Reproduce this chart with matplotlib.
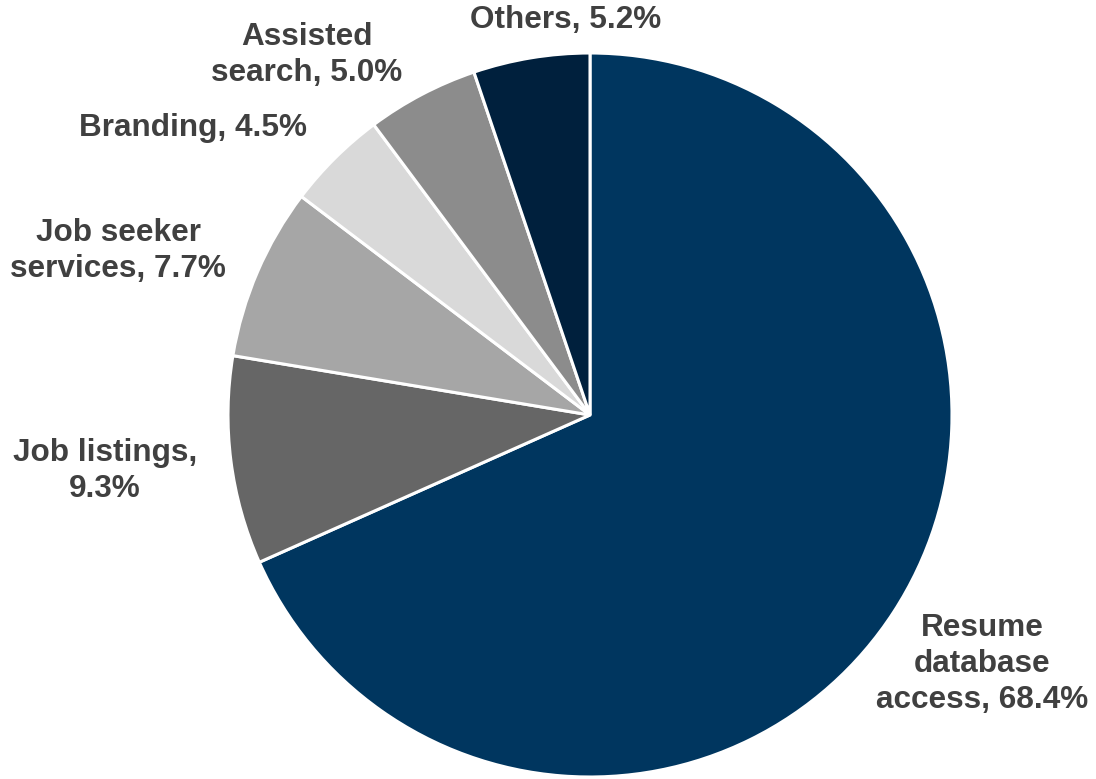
import matplotlib.pyplot as plt

segments = ["Resume\ndatabase\naccess", "Job listings,\n", "Job seeker\nservices", "Branding",
            "Assisted\nsearch", "Others"]
shares = [68.4, 9.3, 7.7, 4.5, 5.0, 5.2]
colors = ["#00365f", "#666666", "#a6a6a6", "#d9d9d9", "#8c8c8c", "#00203d"]

# label centres in pixel coords (x, y from top)
label_pos = [(982, 664), (105, 471), (118, 251), (193, 128), (307, 55), (566, 20)]

W, H = 1096, 779
fig = plt.figure(figsize=(W / 100, H / 100), dpi=100)
ax = fig.add_axes([0, 0, 1, 1])

ax.pie(
    shares,
    colors=colors,
    startangle=90,
    counterclock=False,
    center=(590, H - 415),
    radius=362,
    wedgeprops=dict(edgecolor="white", linewidth=2.2),
    frame=True,
)
ax.set_xlim(0, W)
ax.set_ylim(0, H)
ax.set_aspect("equal")
ax.axis("off")

for name, val, (x, y) in zip(segments, shares, label_pos):
    if name.endswith("\n"):
        txt = f"{name}{val:.1f}%"
    else:
        txt = f"{name}, {val:.1f}%"
    ax.text(x, H - y, txt, ha="center", va="center", fontsize=22.7, fontweight="bold",
            color="#404040", family="Liberation Sans", linespacing=1.27)

fig.savefig("out.png", dpi=100)
